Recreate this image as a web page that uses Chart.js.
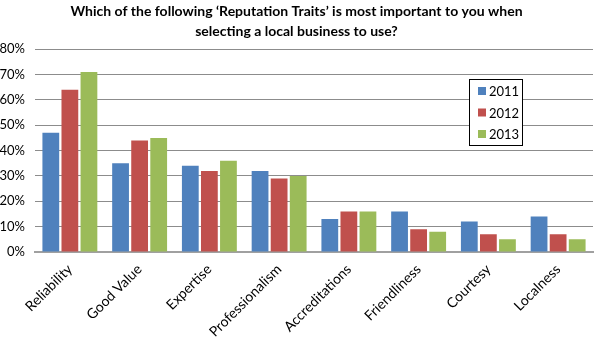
<!DOCTYPE html>
<html>
<head>
<meta charset="utf-8">
<script src="https://cdn.jsdelivr.net/npm/chart.js@4"></script>
<style>
  html, body { margin: 0; padding: 0; background: #fff; }
  #wrap { width: 600px; height: 354px; }
</style>
</head>
<body>
<div id="wrap"><canvas id="myChart" width="600" height="354"></canvas></div>
<script>
const categories = ['Reliability', 'Good Value', 'Expertise', 'Professionalism', 'Accreditations', 'Friendliness', 'Courtesy', 'Localness']
const years = ['2011', '2012', '2013']
const values2011 = [47, 35, 34, 32, 13, 16, 12, 14]
const values2012 = [64, 44, 32, 29, 16, 9, 7, 7]
const values2013 = [71, 45, 36, 30, 16, 8, 5, 5]
const yTicks = [0, 10, 20, 30, 40, 50, 60, 70, 80]
const titleLines = ['Which of the following \u2018Reputation Traits\u2019 is most important to you when', 'selecting a local business to use?']

const colors = ['#4F81BD', '#C0504D', '#9BBB59']
const FONT = 'Lato, "Open Sans", sans-serif'

// legend box drawn inside the plot, like the original
const boxLegend = {
  id: 'boxLegend',
  afterDraw (chart) {
    const ctx = chart.ctx
    const x = 469, y = 79, w = 53, h = 66
    ctx.save()
    ctx.fillStyle = '#fff'
    ctx.fillRect(x, y, w, h)
    ctx.strokeStyle = '#000'
    ctx.lineWidth = 1
    ctx.strokeRect(x + 0.5, y + 0.5, w, h)
    ctx.font = '13px ' + FONT
    ctx.textBaseline = 'middle'
    chart.data.datasets.forEach((ds, i) => {
      const cy = y + 12 + i * 21.5
      ctx.fillStyle = ds.backgroundColor
      ctx.fillRect(x + 9, cy - 4, 8, 8)
      ctx.fillStyle = '#000'
      ctx.fillText(ds.label, x + 20, cy + 1)
    })
    ctx.restore()
  }
}

var ctx = document.getElementById('myChart').getContext('2d')
var myChart = new Chart(ctx, {
  type: 'bar',
  data: {
    labels: categories,
    datasets: [values2011, values2012, values2013].map((v, i) => ({
      label: years[i],
      data: v,
      backgroundColor: colors[i],
      borderWidth: 0,
      categoryPercentage: 0.82,
      barPercentage: 0.88
    }))
  },
  options: {
    responsive: false,
    animation: false,
    layout: { padding: { left: 0, right: 7, top: 0, bottom: 0 } },
    plugins: {
      legend: { display: false },
      tooltip: { enabled: false },
      title: {
        display: true,
        text: titleLines,
        color: '#000',
        font: { family: FONT, size: 14, weight: 'bold', lineHeight: 1.4 },
        padding: { top: 2, bottom: 8 }
      }
    },
    scales: {
      x: {
        grid: { display: false, drawTicks: false },
        border: { color: '#A0A0A0', width: 2 },
        ticks: {
          color: '#000',
          font: { family: FONT, size: 14 },
          maxRotation: 45,
          minRotation: 45,
          padding: 9
        },
        afterFit (scale) { scale.height = 102 }
      },
      y: {
        min: 0,
        max: 80,
        afterBuildTicks (scale) { scale.ticks = yTicks.map(v => ({ value: v })) },
        grid: { color: '#8C8C8C', drawTicks: false },
        border: { display: false },
        ticks: {
          color: '#000',
          font: { family: FONT, size: 13 },
          padding: 10,
          callback: v => v + '%'
        },
        afterFit (scale) { scale.width = 35 }
      }
    }
  },
  plugins: [boxLegend]
})
</script>
</body>
</html>
